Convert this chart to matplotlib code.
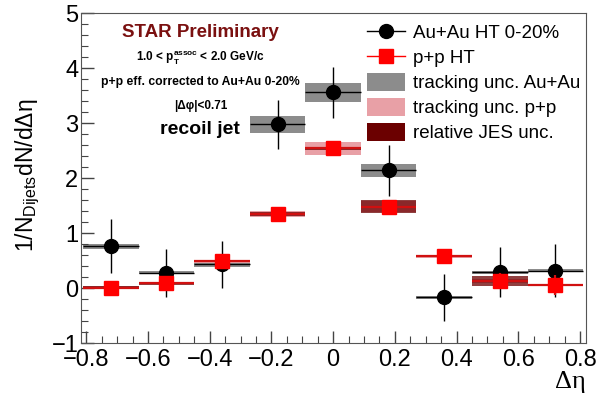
import matplotlib
matplotlib.use('Agg')
import matplotlib.pyplot as plt
import matplotlib.patches as mpatches
from matplotlib.lines import Line2D
from matplotlib.ticker import MultipleLocator

plt.rcParams['font.family'] = ['Liberation Sans', 'DejaVu Sans']
plt.rcParams['mathtext.fontset'] = 'custom'
plt.rcParams['mathtext.rm'] = 'Liberation Sans'
plt.rcParams['mathtext.it'] = 'Liberation Sans'
plt.rcParams['mathtext.bf'] = 'Liberation Sans:bold'

# bin centres in delta eta (bin width 0.18)
deta = [-0.72, -0.54, -0.36, -0.18, 0.0, 0.18, 0.36, 0.54, 0.72]
half_width = 0.09

# Au+Au HT 0-20%
auau = [0.76, 0.28, 0.43, 2.98, 3.56, 2.14, -0.17, 0.29, 0.32]
auau_err = [0.49, 0.44, 0.42, 0.45, 0.46, 0.46, 0.42, 0.45, 0.48]
auau_trk = [0.04, 0.03, 0.04, 0.15, 0.17, 0.11, 0.02, 0.03, 0.02]

# p+p HT
pp = [0.01, 0.09, 0.49, 1.35, 2.54, 1.48, 0.58, 0.13, 0.06]
pp_err = [0.05, 0.10, 0.10, 0.06, 0.06, 0.06, 0.08, 0.15, 0.18]
pp_trk = [0.02, 0.02, 0.03, 0.05, 0.12, 0.10, 0.03, 0.04, 0.01]
pp_jes = [0.02, 0.03, 0.02, 0.04, 0.03, 0.12, 0.02, 0.09, 0.01]

fig = plt.figure(figsize=(6.0, 3.99), dpi=100)
ax = fig.add_axes([0.135, 0.14, 0.842, 0.827])

# systematic boxes
for x, y, t in zip(deta, auau, auau_trk):
    ax.add_patch(plt.Rectangle((x - half_width, y - t), 2 * half_width, 2 * t,
                               facecolor='#8c8c8c', edgecolor='none', zorder=1))
for x, y, t, j in zip(deta, pp, pp_trk, pp_jes):
    ax.add_patch(plt.Rectangle((x - half_width, y - t), 2 * half_width, 2 * t,
                               facecolor='#e8a0a6', edgecolor='none', zorder=1.2))
    ax.add_patch(plt.Rectangle((x - half_width, y - j), 2 * half_width, 2 * j,
                               facecolor='#6b0000', edgecolor='none', alpha=0.75, zorder=1.4))

ax.errorbar(deta, auau, xerr=half_width, yerr=auau_err, fmt='o', color='black',
            markersize=10, elinewidth=1.0, capsize=0, zorder=3)
ax.errorbar(deta, pp, xerr=half_width, yerr=pp_err, fmt='s', color='#ff0000',
            ecolor='#d01010', markersize=9.5, elinewidth=1.6, capsize=0, zorder=4)

ax.set_xlim(-0.817, 0.82)
ax.set_ylim(-1, 5)
ax.xaxis.set_minor_locator(MultipleLocator(0.05))
ax.yaxis.set_minor_locator(MultipleLocator(0.2))
ax.tick_params(which='both', direction='in', top=False, right=False, labelsize=17,
               color='#444444')
ax.tick_params(which='major', length=9, width=1, pad=2)
ax.tick_params(axis='x', which='major', pad=4)
ax.tick_params(which='minor', length=5, width=0.8)
ax.set_xticks([-0.8, -0.6, -0.4, -0.2, 0, 0.2, 0.4, 0.6, 0.8])
ax.set_xticklabels(['\u22120.8', '\u22120.6', '\u22120.4', '\u22120.2', '0', '0.2', '0.4', '0.6', '0.8'])
ax.set_yticks([-1, 0, 1, 2, 3, 4, 5])
ax.set_yticklabels(['\u22121', '0', '1', '2', '3', '4', '5'])
for s in ax.spines.values():
    s.set_color('#555555')

ax.set_ylabel('1/N$_{\\mathregular{Dijets}}$dN/d\u0394\u03b7', fontsize=16.5)
ax.yaxis.set_label_coords(-0.078, 0.51)
ax.set_xlabel('\u0394\u03b7', fontsize=19, loc='right', labelpad=0,
              family=['Liberation Serif', 'DejaVu Serif'])

ax.text(-0.43, 4.64, 'STAR Preliminary', color='#7a1010', fontsize=13.5,
        fontweight='bold', ha='center', va='center')
ax.text(-0.43, 4.17, '1.0 < p$_{\\mathregular{T}}^{\\mathregular{assoc}}$ < 2.0 GeV/c',
        fontsize=8.5, fontweight='bold', ha='center', va='center')
ax.text(-0.43, 3.74, 'p+p eff. corrected to Au+Au 0-20%', fontsize=8.7,
        fontweight='bold', ha='center', va='center')
ax.text(-0.43, 3.31, '|\u0394\u03c6|<0.71', fontsize=8.5, fontweight='bold',
        ha='center', va='center')
ax.text(-0.43, 2.88, 'recoil jet', fontsize=14, fontweight='bold',
        ha='center', va='center')

handles = [
    Line2D([0], [0], color='black', marker='o', markersize=10, lw=1),
    Line2D([0], [0], color='#ff0000', marker='s', markersize=9.5, lw=1, mec='#ff0000'),
    mpatches.Patch(facecolor='#8c8c8c'),
    mpatches.Patch(facecolor='#e8a0a6'),
    mpatches.Patch(facecolor='#6b0000'),
]
labels = ['Au+Au HT 0-20%', 'p+p HT', 'tracking unc. Au+Au',
          'tracking unc. p+p', 'relative JES unc.']
ax.legend(handles, labels, loc='upper right', bbox_to_anchor=(1.015, 1.01),
          frameon=False, fontsize=13.5, handlelength=2.0, handleheight=1.1,
          labelspacing=0.3, handletextpad=0.45, borderaxespad=0.3)

plt.savefig('out.png', dpi=100)
